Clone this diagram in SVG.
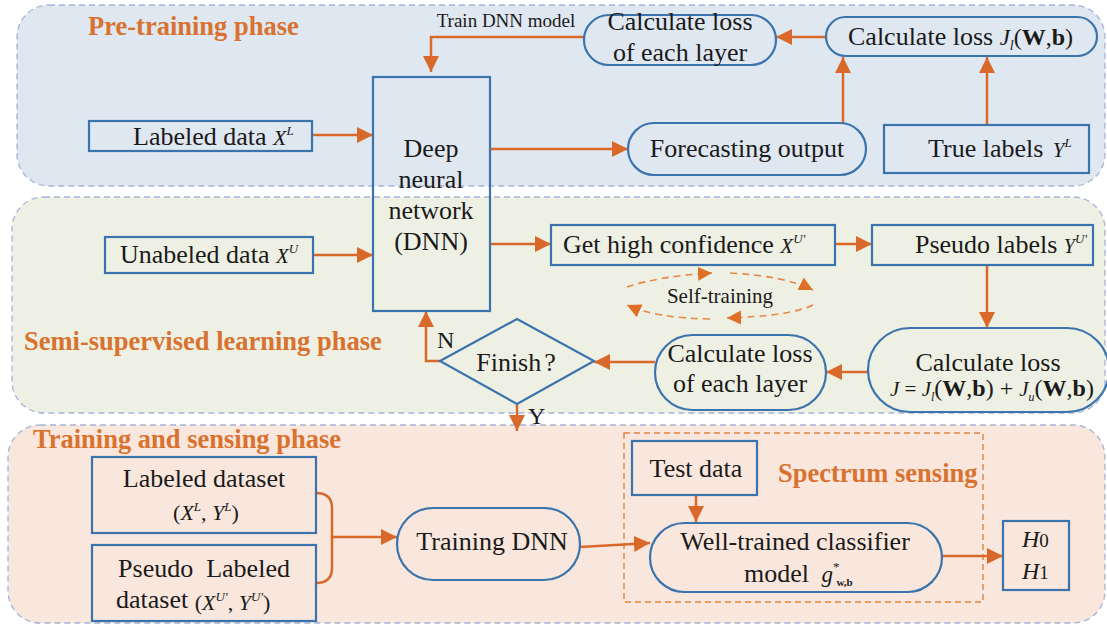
<svg xmlns="http://www.w3.org/2000/svg" width="1107" height="625" viewBox="0 0 1107 625">
<style>
.t{font-family:"Liberation Serif","Times New Roman",serif;font-size:26px;fill:#1a1a1a}
.m{font-family:"Liberation Serif","Times New Roman",serif;font-style:italic;fill:#1a1a1a}
.ph{font-family:"Liberation Serif","Times New Roman",serif;font-weight:bold;font-size:26.5px;fill:#d9722f}
.n{fill:none;stroke:#3b74ad;stroke-width:2.2}
.c{fill:none;stroke:#d9692a;stroke-width:2.5}
.d{fill:none;stroke:#e8884a;stroke-width:1.6;stroke-dasharray:7 5}
.panel{stroke:#a4b4d8;stroke-width:1.3;stroke-dasharray:6 4}
</style>
<defs>
<marker id="ah" markerUnits="userSpaceOnUse" markerWidth="18" markerHeight="18" refX="16" refY="8" orient="auto">
<path d="M0,0 L16,8 L0,16 z" fill="#d9692a"/>
</marker>
<marker id="ahs" markerUnits="userSpaceOnUse" markerWidth="18" markerHeight="18" refX="14" refY="7" orient="auto">
<path d="M0,0 L14,7 L0,14 z" fill="#e07027"/>
</marker>
</defs>
<rect width="1107" height="625" fill="#ffffff"/>
<g id="panels">
<rect class="panel" x="17" y="5" width="1088" height="181" rx="32" fill="#dfe7f1"/>
<rect class="panel" x="12" y="197" width="1093" height="216" rx="32" fill="#eef0e4"/>
<rect class="panel" x="8" y="425" width="1097" height="198" rx="32" fill="#f9e6dc"/>
<rect x="624" y="433" width="359" height="169" fill="none" stroke="#e0843f" stroke-width="1.4" stroke-dasharray="6 4"/>
</g>
<g id="titles">
<text class="ph" x="88" y="35">Pre-training phase</text>
<text class="ph" x="24" y="350">Semi-supervised learning phase</text>
<text class="ph" x="33" y="448">Training and sensing phase</text>
<text class="ph" x="778" y="482">Spectrum sensing</text>
</g>
<g id="connectors">
<path class="c" d="M584,37 H431 V72" marker-end="url(#ah)"/>
<path class="c" d="M312,135 H373" marker-end="url(#ah)"/>
<path class="c" d="M490,149 H628" marker-end="url(#ah)"/>
<path class="c" d="M843,124 V57" marker-end="url(#ah)"/>
<path class="c" d="M987,125 V57" marker-end="url(#ah)"/>
<path class="c" d="M826,37 H776" marker-end="url(#ah)"/>
<path class="c" d="M313,255 H373" marker-end="url(#ah)"/>
<path class="c" d="M490,244 H551" marker-end="url(#ah)"/>
<path class="c" d="M835,244 H872" marker-end="url(#ah)"/>
<path class="c" d="M987,265 V328" marker-end="url(#ah)"/>
<path class="c" d="M868,372 H826" marker-end="url(#ah)"/>
<path class="c" d="M655,362 H594" marker-end="url(#ah)"/>
<path class="c" d="M440,361 H426 V311" marker-end="url(#ah)"/>
<path class="c" d="M517,404 V431" marker-end="url(#ah)"/>
<path class="c" d="M316,493 Q332,493 332,508 V568 Q332,583 316,583"/>
<path class="c" d="M332,537 H397" marker-end="url(#ah)"/>
<path class="c" d="M580,547 L650,543" marker-end="url(#ah)"/>
<path class="c" d="M696,495 V522" marker-end="url(#ah)"/>
<path class="c" d="M942,556 H1003" marker-end="url(#ah)"/>
<path class="d" d="M627,287 Q660,276 712,273" marker-end="url(#ahs)"/>
<path class="d" d="M730,273 Q785,276 813,290" marker-end="url(#ahs)"/>
<path class="d" d="M813,305 Q790,316 727,318" marker-end="url(#ahs)"/>
<path class="d" d="M710,319 Q655,318 627,305" marker-end="url(#ahs)"/>
<text class="t" x="720" y="303" text-anchor="middle" style="font-size:21px">Self-training</text>
<text class="t" x="437" y="348" style="font-size:24px">N</text>
<text class="t" x="528" y="424" style="font-size:24px">Y</text>
<text class="t" x="506" y="27" text-anchor="middle" style="font-size:19px">Train DNN model</text>
</g>
<g id="n-labeled">
<rect class="n" x="89" y="121" width="223" height="30"/>
<text class="t" x="133" y="145">Labeled data <tspan class="m" style="font-size:22px">X</tspan><tspan class="m" style="font-size:13px" dy="-10">L</tspan></text>
</g>
<g id="n-dnn">
<rect class="n" x="373" y="77" width="117" height="234"/>
<text class="t" x="431" y="157" text-anchor="middle">Deep</text>
<text class="t" x="431" y="188" text-anchor="middle">neural</text>
<text class="t" x="431" y="219" text-anchor="middle">network</text>
<text class="t" x="431" y="250" text-anchor="middle">(DNN)</text>
</g>
<g id="n-losslayer1">
<rect class="n" x="584" y="15" width="192" height="50" rx="25"/>
<text class="t" x="680" y="30" text-anchor="middle">Calculate loss</text>
<text class="t" x="680" y="61" text-anchor="middle">of each layer</text>
</g>
<g id="n-lossJl">
<rect class="n" x="826" y="17" width="271" height="39" rx="19.5"/>
<text class="t" x="848" y="45">Calculate loss <tspan class="m" style="font-size:23px">J</tspan><tspan class="m" style="font-size:14px" dy="5">l</tspan><tspan style="font-size:24px" dy="-5">(<tspan font-weight="bold">W</tspan>,<tspan font-weight="bold">b</tspan>)</tspan></text>
</g>
<g id="n-forecast">
<rect class="n" x="628" y="123" width="238" height="52" rx="26"/>
<text class="t" x="747" y="157" text-anchor="middle">Forecasting output</text>
</g>
<g id="n-truelabels">
<rect class="n" x="884" y="125" width="205" height="48"/>
<text class="t" x="928" y="157">True labels <tspan class="m" style="font-size:21px" dx="3">Y</tspan><tspan class="m" style="font-size:13px" dy="-10">L</tspan></text>
</g>
<g id="n-unlabeled">
<rect class="n" x="105" y="237" width="208" height="36"/>
<text class="t" x="120" y="263">Unabeled data <tspan class="m" style="font-size:21px">X</tspan><tspan class="m" style="font-size:13px" dy="-10">U</tspan></text>
</g>
<g id="n-highconf">
<rect class="n" x="551" y="225" width="284" height="40"/>
<text class="t" x="563" y="253">Get high confidence <tspan class="m" style="font-size:21px">X</tspan><tspan class="m" style="font-size:13px" dy="-10">U'</tspan></text>
</g>
<g id="n-pseudo">
<rect class="n" x="872" y="225" width="221" height="40"/>
<text class="t" x="915" y="253">Pseudo labels <tspan class="m" style="font-size:20px">Y</tspan><tspan class="m" style="font-size:13px" dy="-10">U'</tspan></text>
</g>
<g id="n-lossJ">
<rect class="n" x="868" y="328" width="241" height="84" rx="42"/>
<text class="t" x="988" y="371" text-anchor="middle">Calculate loss</text>
<text class="m" x="890" y="396" style="font-size:21px">J <tspan style="font-style:normal">=</tspan> J<tspan style="font-size:12px" dy="5">l</tspan><tspan style="font-style:normal;font-size:24px" dy="-5">(<tspan font-weight="bold">W</tspan>,<tspan font-weight="bold">b</tspan>) + </tspan>J<tspan style="font-size:12px" dy="5">u</tspan><tspan style="font-style:normal;font-size:24px" dy="-5">(<tspan font-weight="bold">W</tspan>,<tspan font-weight="bold">b</tspan>)</tspan></text>
</g>
<g id="n-losslayer2">
<rect class="n" x="655" y="335" width="171" height="75" rx="37.5"/>
<text class="t" x="740" y="362" text-anchor="middle">Calculate loss</text>
<text class="t" x="740" y="392" text-anchor="middle">of each layer</text>
</g>
<g id="n-finish">
<path class="n" d="M440,361 L517,319 L594,361 L517,404 Z"/>
<text class="t" x="516" y="371" text-anchor="middle">Finish<tspan dx="3">?</tspan></text>
</g>
<g id="n-labeledset">
<rect class="n" x="92" y="457" width="224" height="76"/>
<text class="t" x="204" y="487" text-anchor="middle">Labeled dataset</text>
<text class="t" x="206" y="520" text-anchor="middle" style="font-size:22px">(<tspan class="m">X</tspan><tspan class="m" style="font-size:13px" dy="-9">L</tspan><tspan dy="9">, </tspan><tspan class="m">Y</tspan><tspan class="m" style="font-size:13px" dy="-9">L</tspan><tspan dy="9">)</tspan></text>
</g>
<g id="n-pseudoset">
<rect class="n" x="92" y="545" width="224" height="76"/>
<text class="t" x="204" y="577" text-anchor="middle" xml:space="preserve">Pseudo  Labeled</text>
<text class="t" x="116" y="608">dataset <tspan style="font-size:22px" dy="2">(</tspan><tspan class="m" style="font-size:22px">X</tspan><tspan class="m" style="font-size:13px" dy="-9">U'</tspan><tspan style="font-size:22px" dy="9">, </tspan><tspan class="m" style="font-size:22px">Y</tspan><tspan class="m" style="font-size:13px" dy="-9">U'</tspan><tspan style="font-size:22px" dy="9">)</tspan></text>
</g>
<g id="n-trainingdnn">
<rect class="n" x="397" y="508" width="183" height="72" rx="36"/>
<text class="t" x="492" y="550" text-anchor="middle">Training DNN</text>
</g>
<g id="n-testdata">
<rect class="n" x="632" y="441" width="125" height="54"/>
<text class="t" x="696" y="477" text-anchor="middle">Test data</text>
</g>
<g id="n-classifier">
<rect class="n" x="650" y="523" width="292" height="69" rx="34.5"/>
<text class="t" x="795" y="550" text-anchor="middle">Well-trained classifier</text>
<text class="t" x="744" y="582">model <tspan class="m" dx="6" style="font-size:23px">g</tspan><tspan style="font-size:13px" dy="-11">*</tspan><tspan style="font-size:11px;font-weight:bold" dy="15" dx="-3">w,b</tspan></text>
</g>
<g id="n-h">
<rect class="n" x="1003" y="521" width="66" height="69"/>
<text class="m" x="1022" y="547" style="font-size:24px">H<tspan style="font-style:normal;font-size:19px">0</tspan></text>
<text class="m" x="1022" y="579" style="font-size:24px">H<tspan style="font-style:normal;font-size:19px">1</tspan></text>
</g>
</svg>
